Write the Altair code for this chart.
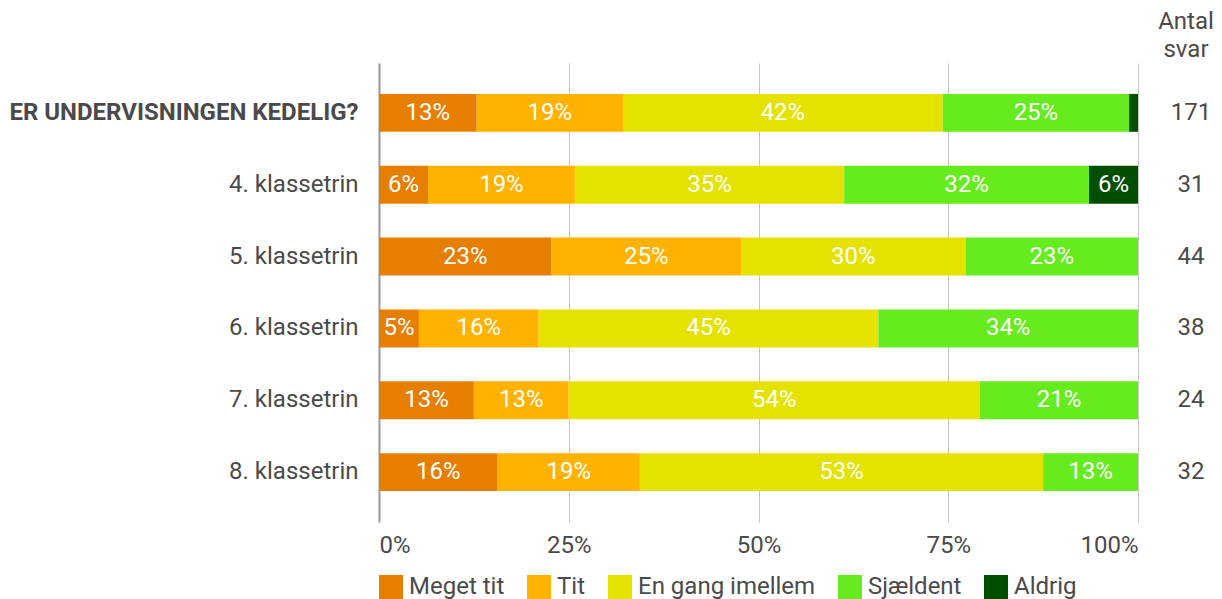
import altair as alt
import pandas as pd

rows = ["ER UNDERVISNINGEN KEDELIG?", "4. klassetrin", "5. klassetrin",
        "6. klassetrin", "7. klassetrin", "8. klassetrin"]
categories = ["Meget tit", "Tit", "En gang imellem", "Sjældent", "Aldrig"]
colors = ["#E67E00", "#FFB300", "#E6E200", "#66EB1F", "#004F00"]

meget_tit = [22, 2, 10, 2, 3, 5]
tit = [33, 6, 11, 6, 3, 6]
en_gang = [72, 11, 13, 17, 13, 17]
sjaeldent = [42, 10, 10, 13, 5, 4]
aldrig = [2, 2, 0, 0, 0, 0]
antal = [171, 31, 44, 38, 24, 32]
header_lines = ["Antal", "svar"]

series = [meget_tit, tit, en_gang, sjaeldent, aldrig]
recs = []
for i, r in enumerate(rows):
    for j, c in enumerate(categories):
        recs.append({"row": r, "cat": c, "order": j, "count": series[j][i]})
df = pd.DataFrame(recs)
df_n = pd.DataFrame({"row": rows, "n": antal})

FONT = "Roboto"
FS = 24
TXT = "#4a4a4a"
W, H = 759, 459
PAD_L, PAD_T = 371, 55
PAD_R = 1206 - PAD_L - W
PAD_B = 591 - PAD_T - H

yenc = alt.Y("row:N", sort=rows, title=None,
             scale=alt.Scale(paddingInner=0.472, paddingOuter=0.43),
             axis=alt.Axis(domain=True, domainColor="#9a9a9a", domainWidth=2,
                           ticks=False, labelFontSize=FS, labelFont=FONT,
                           labelColor=TXT, labelPadding=21, labelLimit=400,
                           labelFontWeight=alt.ExprRef(
                               "datum.value == 'ER UNDERVISNINGEN KEDELIG?' ? 'bold' : 'normal'")))

base = alt.Chart(df).transform_stack(
    stack="count", groupby=["row"], as_=["c0", "c1"],
    sort=[alt.SortField("order", "ascending")]
).transform_joinaggregate(total="sum(count)", groupby=["row"]).transform_calculate(
    x0="datum.c0 / datum.total", x1="datum.c1 / datum.total",
    mid="(datum.c0 + datum.c1) / 2 / datum.total",
    pct="datum.count / datum.total"
)

bars = base.mark_bar().encode(
    x=alt.X("x0:Q", scale=alt.Scale(domain=[0, 1], nice=False), title=None,
            axis=alt.Axis(values=[0, 0.25, 0.5, 0.75, 1], format=".0%", grid=True,
                          gridColor="#c4c4c4", gridWidth=1, domain=False, ticks=False,
                          labelFontSize=FS, labelFont=FONT, labelColor=TXT,
                          labelPadding=11, labelFlush=True)),
    x2="x1:Q",
    y=yenc,
    color=alt.Color("cat:N", scale=alt.Scale(domain=categories, range=colors),
                    legend=alt.Legend(orient="none", legendX=0, legendY=512,
                                      direction="horizontal", columns=5, title=None,
                                      symbolType="square", symbolSize=576,
                                      symbolStrokeWidth=0, symbolOpacity=1,
                                      labelFontSize=FS, labelFont=FONT,
                                      labelColor=TXT, labelOffset=6,
                                      labelLimit=400, columnPadding=22)),
)

labels = base.transform_filter("datum.pct >= 0.03").mark_text(
    color="white", fontSize=FS, font=FONT, align="center", baseline="middle"
).encode(
    x=alt.X("mid:Q"),
    y=alt.Y("row:N", sort=rows),
    text=alt.Text("pct:Q", format=".0%"),
)

counts = alt.Chart(df_n).mark_text(
    fontSize=FS, font=FONT, color=TXT, align="center", baseline="middle"
).encode(
    x=alt.value(812),
    y=alt.Y("row:N", sort=rows),
    text="n:Q",
)

header = alt.Chart(pd.DataFrame({"t": header_lines, "yy": [-41, -13]})).mark_text(
    fontSize=FS, font=FONT, color=TXT, align="center", baseline="middle"
).encode(
    x=alt.value(807),
    y=alt.Y("yy:Q", scale=None),
    text="t:N",
)

chart = alt.layer(bars, labels, counts, header).properties(
    width=W, height=H, background="white",
    autosize=alt.AutoSizeParams(type="none"),
    padding={"left": PAD_L, "top": PAD_T, "right": PAD_R, "bottom": PAD_B},
).configure_view(stroke=None)

chart.save("out.html", embed_options={"renderer": "svg", "actions": False})
